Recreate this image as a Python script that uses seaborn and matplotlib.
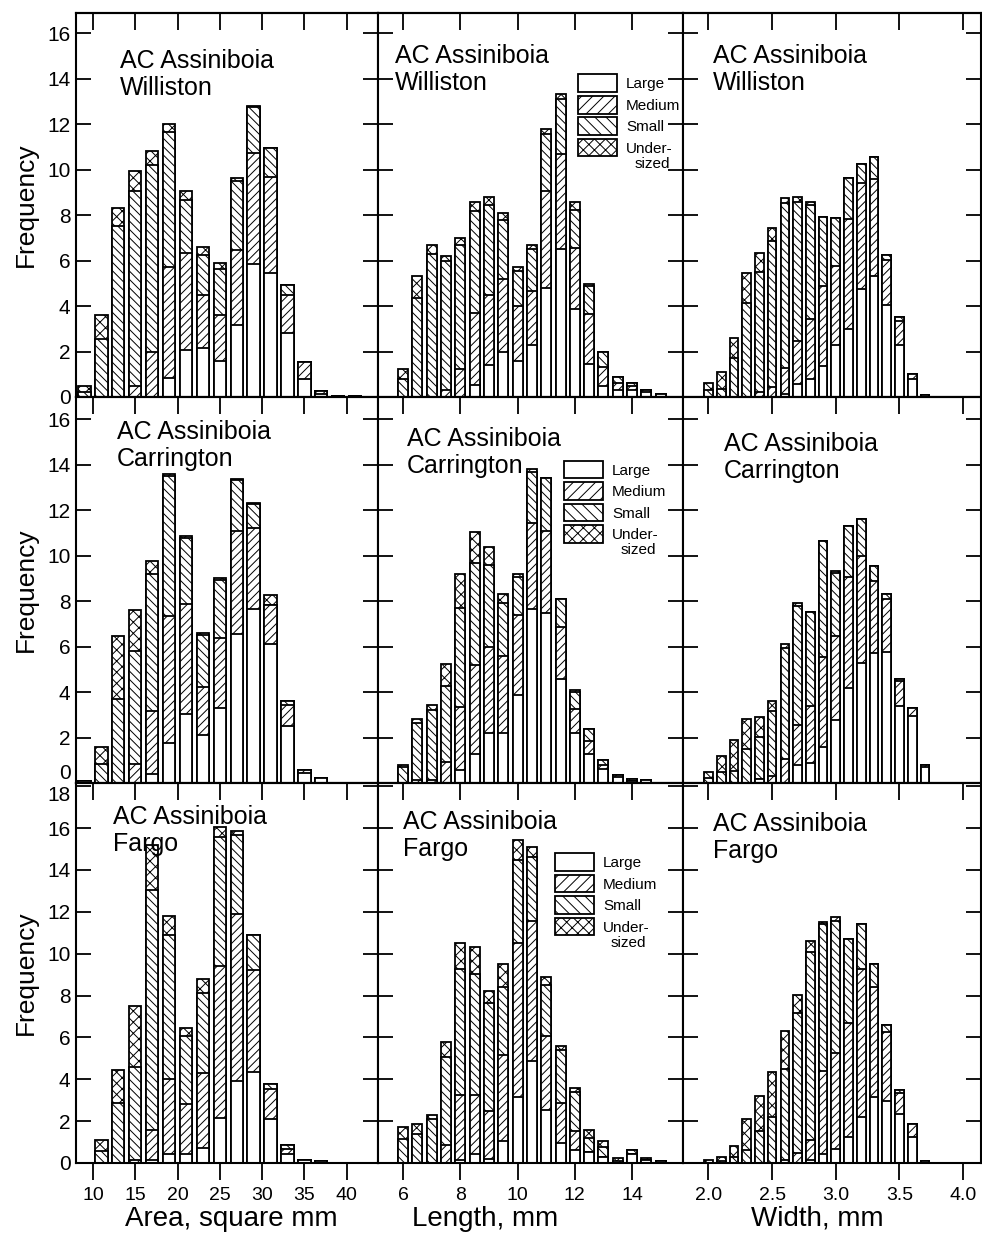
import numpy as np
import pandas as pd
import matplotlib
matplotlib.use("Agg")
import matplotlib.pyplot as plt
from matplotlib.patches import Patch
import seaborn as sns

sns.set_style("ticks")
plt.rcParams["font.family"] = ["Liberation Sans", "DejaVu Sans"]
plt.rcParams["hatch.linewidth"] = 0.7
plt.rcParams["axes.linewidth"] = 1.5
for key in ["text.color", "axes.labelcolor", "xtick.color", "ytick.color", "axes.edgecolor"]:
    plt.rcParams[key] = "black"

# ---------------- bin centres ----------------
area_bins = [9, 11, 13, 15, 17, 19, 21, 23, 25, 27, 29, 31, 33, 35, 37, 39, 41]
length_bins = [6.0, 6.5, 7.0, 7.5, 8.0, 8.5, 9.0, 9.5, 10.0, 10.5, 11.0, 11.5,
               12.0, 12.5, 13.0, 13.5, 14.0, 14.5, 15.0]
width_bins = [2.0, 2.1, 2.2, 2.3, 2.4, 2.5, 2.6, 2.7, 2.8, 2.9, 3.0, 3.1, 3.2,
              3.3, 3.4, 3.5, 3.6, 3.7]

sites = ["Williston", "Carrington", "Fargo"]
size_classes = ["Large", "Medium", "Small", "Under-"]

# ---------------- Williston ----------------
will_area_large = [0, 0, 0, 0, 0, 0.84, 2.07, 2.14, 1.58, 3.18, 5.83, 5.47, 2.81, 0.77, 0.13, 0.05, 0.05]
will_area_medium = [0, 0, 0, 0.47, 1.96, 4.87, 4.28, 2.33, 2.04, 3.28, 4.9, 4.18, 1.67, 0.75, 0.12, 0, 0]
will_area_small = [0.2, 2.54, 7.53, 8.58, 8.23, 5.95, 2.32, 1.77, 1.99, 3.03, 2.0, 1.29, 0.43, 0, 0, 0, 0]
will_area_under = [0.27, 1.08, 0.78, 0.89, 0.62, 0.34, 0.37, 0.35, 0.27, 0.12, 0.05, 0, 0, 0, 0, 0, 0]

will_len_large = [0, 0, 0, 0, 0, 0.52, 1.4, 1.96, 1.58, 2.29, 4.79, 6.49, 3.86, 1.47, 0.47, 0.3, 0.32, 0.2, 0.12]
will_len_medium = [0, 0, 0, 0.3, 1.25, 3.17, 3.07, 3.23, 2.4, 2.36, 4.28, 4.17, 2.7, 2.2, 0.86, 0.3, 0.15, 0.12, 0]
will_len_small = [0.81, 4.35, 6.27, 5.68, 5.41, 4.5, 3.97, 2.6, 1.55, 1.87, 2.51, 2.46, 1.65, 1.2, 0.66, 0.3, 0.15, 0, 0]
will_len_under = [0.4, 0.96, 0.41, 0.22, 0.31, 0.4, 0.34, 0.32, 0.18, 0.16, 0.22, 0.18, 0.37, 0.1, 0, 0, 0, 0, 0]

will_wid_large = [0, 0, 0, 0, 0, 0, 0.12, 0.59, 0.78, 1.36, 2.29, 2.97, 4.73, 5.32, 4.04, 2.29, 0.78, 0.1]
will_wid_medium = [0, 0, 0, 0, 0.2, 0.45, 1.17, 1.88, 2.64, 3.5, 3.47, 4.84, 4.66, 4.28, 2.0, 1.05, 0.25, 0]
will_wid_small = [0.3, 0.35, 1.73, 4.15, 5.3, 6.4, 7.25, 6.08, 5.0, 3.05, 2.1, 1.8, 0.85, 0.95, 0.2, 0.18, 0, 0]
will_wid_under = [0.3, 0.75, 0.85, 1.3, 0.85, 0.6, 0.22, 0.22, 0.15, 0, 0, 0, 0, 0, 0, 0, 0, 0]

# ---------------- Carrington ----------------
carr_area_large = [0.07, 0, 0, 0, 0.41, 1.74, 3.03, 2.1, 3.28, 6.54, 7.65, 6.1, 2.5, 0.46, 0.24, 0, 0]
carr_area_medium = [0, 0, 0, 0.85, 2.75, 5.62, 4.85, 2.13, 3.09, 4.53, 3.57, 1.71, 0.93, 0.1, 0, 0, 0]
carr_area_small = [0, 0.85, 3.69, 4.96, 6.04, 6.15, 2.9, 2.28, 2.54, 2.24, 1.03, 0, 0.19, 0, 0, 0, 0]
carr_area_under = [0, 0.74, 2.79, 1.81, 0.54, 0.07, 0.1, 0.07, 0.1, 0.05, 0.05, 0.47, 0, 0, 0, 0, 0]

carr_len_large = [0, 0, 0, 0, 0.56, 1.29, 2.18, 2.18, 3.87, 7.66, 7.47, 4.56, 2.18, 1.26, 0.6, 0.25, 0.1, 0.12, 0]
carr_len_medium = [0, 0.12, 0.12, 0.93, 2.79, 3.9, 3.79, 3.41, 3.53, 3.75, 3.63, 2.32, 1.06, 0.59, 0.2, 0.09, 0, 0, 0]
carr_len_small = [0.7, 2.5, 3.09, 3.34, 4.34, 4.49, 3.63, 2.32, 1.66, 2.28, 2.29, 1.22, 0.74, 0.54, 0.2, 0, 0.09, 0, 0]
carr_len_under = [0.1, 0.19, 0.22, 0.96, 1.51, 1.37, 0.78, 0.4, 0.15, 0.1, 0, 0, 0.12, 0, 0, 0, 0, 0, 0]

carr_wid_large = [0, 0, 0, 0, 0.18, 0, 0, 0.79, 0.87, 1.6, 2.77, 4.16, 5.26, 5.7, 5.78, 3.37, 2.96, 0.71]
carr_wid_medium = [0, 0, 0, 0, 0, 0.32, 1.06, 1.76, 2.51, 3.96, 3.71, 4.91, 4.71, 3.17, 2.32, 1.13, 0.34, 0.08]
carr_wid_small = [0.2, 0.47, 0.54, 1.5, 1.83, 2.86, 4.87, 5.22, 4.13, 5.06, 2.74, 2.24, 1.64, 0.65, 0.22, 0.07, 0, 0]
carr_wid_under = [0.3, 0.73, 1.36, 1.32, 0.91, 0.44, 0.19, 0.15, 0, 0, 0.08, 0, 0, 0, 0, 0, 0, 0]

# ---------------- Fargo ----------------
farg_area_large = [0, 0, 0, 0, 0.12, 0.42, 0.45, 0.7, 2.16, 3.93, 4.35, 2.12, 0.42, 0.15, 0.1, 0, 0]
farg_area_medium = [0, 0, 0, 0.12, 1.47, 3.58, 2.39, 3.6, 7.24, 7.94, 4.88, 1.42, 0.25, 0, 0, 0, 0]
farg_area_small = [0, 0.58, 2.88, 4.47, 11.44, 6.87, 3.21, 3.81, 6.19, 3.8, 1.67, 0.22, 0.17, 0, 0, 0, 0]
farg_area_under = [0, 0.54, 1.54, 2.89, 2.17, 0.95, 0.42, 0.67, 0.45, 0.2, 0, 0, 0, 0, 0, 0, 0]

farg_len_large = [0, 0, 0, 0, 0.15, 0.45, 0.2, 1.04, 3.13, 4.85, 2.54, 0.95, 0.62, 0.54, 0.28, 0, 0.45, 0.13, 0.08]
farg_len_medium = [0, 0, 0, 0.84, 3.1, 2.79, 2.26, 4.1, 7.36, 6.72, 3.51, 1.92, 0.92, 0, 0, 0, 0, 0, 0]
farg_len_small = [1.17, 1.37, 2.09, 4.21, 6.02, 5.77, 5.18, 3.29, 3.96, 3.06, 2.47, 2.51, 1.84, 0.67, 0.5, 0.11, 0.17, 0, 0]
farg_len_under = [0.54, 0.5, 0.2, 0.75, 1.25, 1.3, 0.59, 1.09, 1.0, 0.48, 0.37, 0.22, 0.22, 0.38, 0.28, 0.12, 0, 0.1, 0]

farg_wid_large = [0, 0, 0, 0, 0, 0, 0, 0, 0.12, 0.45, 0.65, 1.24, 2.21, 3.13, 2.96, 2.32, 1.25, 0.08]
farg_wid_medium = [0, 0, 0, 0, 0, 0, 0.12, 0.48, 1.0, 3.93, 4.6, 5.43, 7.06, 5.27, 3.29, 1.02, 0.62, 0]
farg_wid_small = [0, 0.1, 0.29, 0.62, 1.54, 2.21, 4.35, 6.69, 8.98, 7.02, 6.32, 4.01, 2.14, 1.12, 0.35, 0.15, 0, 0]
farg_wid_under = [0.12, 0.18, 0.5, 1.47, 1.67, 2.12, 1.84, 0.85, 0.52, 0.12, 0.17, 0, 0, 0, 0, 0, 0, 0]

panel_data = [
    [(will_area_large, will_area_medium, will_area_small, will_area_under),
     (will_len_large, will_len_medium, will_len_small, will_len_under),
     (will_wid_large, will_wid_medium, will_wid_small, will_wid_under)],
    [(carr_area_large, carr_area_medium, carr_area_small, carr_area_under),
     (carr_len_large, carr_len_medium, carr_len_small, carr_len_under),
     (carr_wid_large, carr_wid_medium, carr_wid_small, carr_wid_under)],
    [(farg_area_large, farg_area_medium, farg_area_small, farg_area_under),
     (farg_len_large, farg_len_medium, farg_len_small, farg_len_under),
     (farg_wid_large, farg_wid_medium, farg_wid_small, farg_wid_under)],
]

# ---------------- layout (pixels of a 982 x 1249 canvas) ----------------
W, H = 982, 1249
col_px = [(76, 378), (378, 683), (683, 981)]
row_px = [(13, 397), (397, 783), (783, 1163)]

col_bins = [area_bins, length_bins, width_bins]
col_barw = [0.73, 0.70, 0.68]
col_xlim = [(8.0, 43.7), (5.12, 15.78), (1.80, 4.14)]
col_xticks = [[10, 15, 20, 25, 30, 35, 40], [6, 8, 10, 12, 14], [2.0, 2.5, 3.0, 3.5, 4.0]]
col_xticklabels = [["10", "15", "20", "25", "30", "35", "40"], ["6", "8", "10", "12", "14"],
                   ["2.0", "2.5", "3.0", "3.5", "4.0"]]
col_xlabel = ["Area, square mm", "Length, mm", "Width, mm"]
col_xlabel_x = [0.513, 0.35, 0.45]
row_ylim = [16.88, 16.97, 18.15]
row_yticks = [list(range(0, 17, 2)), list(range(0, 17, 2)), list(range(0, 19, 2))]

title_pos = [[(0.146, 0.905), (0.056, 0.92), (0.10, 0.92)],
             [(0.136, 0.94), (0.095, 0.922), (0.138, 0.909)],
             [(0.123, 0.942), (0.082, 0.929), (0.10, 0.924)]]
legend_pos = [(0.656, 0.84), (0.61, 0.835), (0.58, 0.815)]

hatches = ["", "////", "\\\\\\\\", "xxx"]
legend_hatches = ["", "///", "\\\\\\", "xxx"]


def draw_panel(ax, bins, layers, bar_w):
    large, medium, small, under = layers
    df = pd.DataFrame({"bin": bins, "Large": large, "Medium": medium,
                       "Small": small, "Under": under})
    df["top_L"] = df["Large"]
    df["top_M"] = df["top_L"] + df["Medium"]
    df["top_S"] = df["top_M"] + df["Small"]
    df["top_U"] = df["top_S"] + df["Under"]
    # tallest stack first, lower segments painted over it
    for col, hatch in [("top_U", hatches[3]), ("top_S", hatches[2]),
                       ("top_M", hatches[1]), ("top_L", hatches[0])]:
        sns.barplot(data=df, x="bin", y=col, native_scale=True, orient="x",
                    width=bar_w, color="white", edgecolor="black",
                    linewidth=1.3, hatch=hatch, errorbar=None, ax=ax)


fig = plt.figure(figsize=(W / 100, H / 100), dpi=100)

for r in range(3):
    for c in range(3):
        x0, x1 = col_px[c]
        y0, y1 = row_px[r]
        ax = fig.add_axes([x0 / W, 1 - y1 / H, (x1 - x0) / W, (y1 - y0) / H])
        draw_panel(ax, col_bins[c], panel_data[r][c], col_barw[c])

        ax.set_xlim(*col_xlim[c])
        ax.set_ylim(0, row_ylim[r])
        ax.set_xticks(col_xticks[c])
        ax.set_xticklabels(col_xticklabels[c])
        ax.set_yticks(row_yticks[r])
        ax.tick_params(axis="x", direction="out", length=12, width=1.3,
                       bottom=True, top=False, labelbottom=(r == 2),
                       labelsize=14, pad=5)
        ax.tick_params(axis="y", direction="in", length=11, width=1.3,
                       left=True, right=True, labelleft=(c == 0),
                       labelright=False, labelsize=15, pad=4)
        for lab in ax.get_xticklabels():
            lab.set_fontfamily(["Liberation Sans Narrow", "Liberation Sans"])
        for sp in ax.spines.values():
            sp.set_linewidth(1.5)

        # rows meet with little room: nudge the shared "0" / "18" labels apart
        if c == 0 and r == 1:
            ax.get_yticklabels()[0].set_va("bottom")
        if c == 0 and r == 2:
            ax.get_yticklabels()[-1].set_va("top")

        sec = ax.secondary_xaxis("top")
        sec.set_ticks(col_xticks[c])
        sec.tick_params(axis="x", direction="in", length=12, width=1.3,
                        labeltop=False)
        sec.spines["top"].set_linewidth(1.5)

        if c == 0:
            ax.set_ylabel("Frequency", fontsize=19)
            ax.yaxis.set_label_coords(-0.125, 0.5)
        else:
            ax.set_ylabel("")
        if r == 2:
            ax.set_xlabel(col_xlabel[c], fontsize=20)
            ax.xaxis.set_label_coords(col_xlabel_x[c], -0.112)
        else:
            ax.set_xlabel("")

        tx, ty = title_pos[r][c]
        ax.text(tx, ty, "AC Assiniboia\n" + sites[r], transform=ax.transAxes,
                ha="left", va="top", fontsize=18, linespacing=1.15, zorder=5)

        if c == 1:
            handles = [Patch(facecolor="white", edgecolor="black", hatch=h,
                             linewidth=1.3, label=lab)
                       for h, lab in zip(legend_hatches, size_classes)]
            leg = ax.legend(handles=handles, loc="upper left",
                            bbox_to_anchor=legend_pos[r], frameon=False,
                            fontsize=11, handlelength=2.55, handleheight=1.4,
                            handletextpad=0.6, labelspacing=0.25,
                            borderpad=0, borderaxespad=0)
            # second line of the "Under-sized" label hangs below its box
            ax.annotate("sized", xy=(0.55, 0), xycoords=leg.get_texts()[3],
                        xytext=(0, -1), textcoords="offset points",
                        ha="center", va="top", fontsize=11, zorder=10)

fig.savefig("out.png", dpi=100)
